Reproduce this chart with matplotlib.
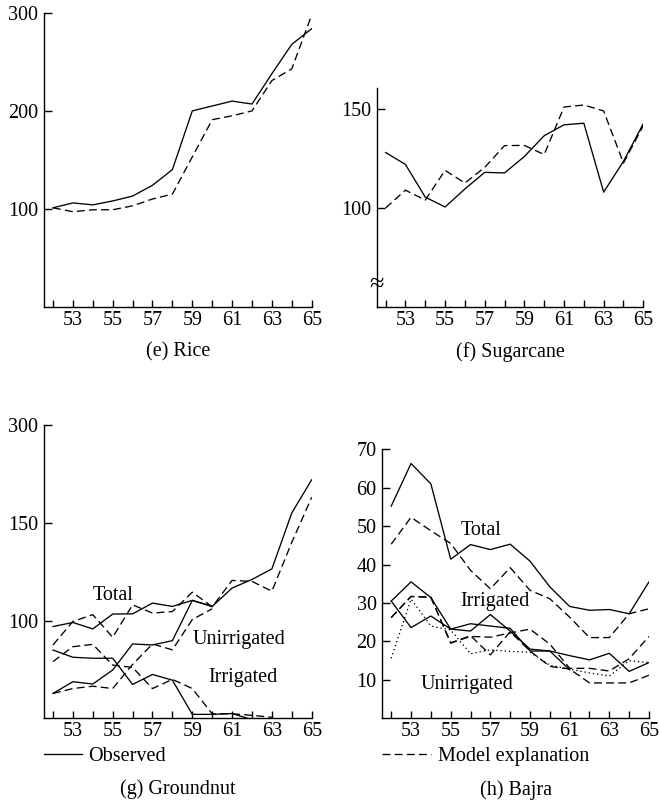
import numpy as np
import matplotlib
matplotlib.use("Agg")
from matplotlib import pyplot as plt

plt.rcParams['font.family'] = ['Liberation Serif', 'DejaVu Serif']
plt.rcParams['font.size'] = 14.5

years = np.arange(52, 66)
odd_labels = [str(y) if y % 2 else '' for y in years]

# (e) Rice
rice_obs = [101, 106, 104, 108, 113, 124, 140, 200, 205, 210, 207, 238, 268, 284]
rice_model = [101, 97, 99, 99, 103, 110, 115, 153, 191, 195, 200, 231, 243, 298]

# (f) Sugarcane
sugar_obs = [128, 122, 105.5, 100.5, 109.6, 118, 117.7, 126, 136.5, 142, 142.8, 108, 123.6, 142.6]
sugar_model = [100, 109, 104, 119, 112.6, 120.5, 131.5, 131.6, 127, 151, 152, 149, 122.7, 141.6]

# (g) Groundnut  (axis labelled 100, 150, 300 at evenly spaced ticks)
gn_total_obs = [96.9, 99, 95.7, 103.3, 103.4, 108.9, 107.2, 110.3, 107.2, 116.6, 121, 126.4, 155, 172]
gn_total_model = [87.5, 99.5, 103, 91.4, 108, 103.8, 104.6, 114.5, 107, 120.5, 120, 115, 140, 163]
gn_unirr_obs = [62.7, 68.7, 67.5, 74.7, 88, 87.5, 89.7, 110.3, 107.2] + [np.nan] * 5
gn_unirr_model = [62.7, 65.2, 66.4, 65.2, 77.5, 88, 85, 100.5, 106] + [np.nan] * 5
gn_irr_obs = [84.9, 81.2, 80.7, 80.7, 67.3, 72.4, 69.5, 52, 52, 52.4, 49.3] + [np.nan] * 3
gn_irr_model = [79, 86.6, 87.8, 77.2, 76, 65.2, 69.9, 65.2, 52.3, 52.3, 51.5, 50.5] + [np.nan] * 2
gn_yticks = [100, 150, 200]
gn_yticklabels = ['100', '150', '300']

# (h) Bajra
bj_total_obs = [55.2, 66.3, 61.0, 41.4, 45.2, 43.9, 45.3, 40.9, 34.2, 29.1, 28.1, 28.3, 27.2, 35.5]
bj_total_model = [45.3, 52.3, 48.8, 45.5, 38.5, 33.7, 39.2, 33.3, 31.1, 26.3, 21.0, 21.0, 27.2, 28.5]
bj_irr_obs = [30.5, 23.6, 26.6, 23.2, 24.6, 24.0, 23.4, 17.5, 17.5, 16.3, 15.2, 16.9, 12.2, 14.5]
bj_unirr_obs = [30.5, 35.5, 31.4, 23.2, 22.7, 27.0, 22.7, 18.0, 17.5, 12.6] + [np.nan] * 4
bj_irr_model = [26.2, 31.7, 31.5, 19.6, 21.3, 21.1, 22.2, 23.2, 19.3, 13.0, 13.0, 12.3, 15.5, 21.3]
bj_unirr_model = [26.2, 31.7, 31.5, 19.6, 21.5, 16.5, 22.5, 17.5, 13.5, 12.8, 9.2, 9.2, 9.2, 11.2]
bj_dotted = [15.6, 31.0, 24.0, 23.0, 16.8, 17.8, 17.4, 17.2, 13.8, 12.8, 11.8, 11.0, 15.0, 14.5]

SOLID = dict(color='black', lw=0.95, linestyle='-')
DASHED = dict(color='black', lw=0.95, linestyle=(0, (6, 3.2)))
DOTTED = dict(color='black', lw=0.95, linestyle=(0, (1, 2.2)))


def style_axes(ax, ylim, yticks, yticklabels=None):
    ax.set_xlim(51.55, 65)
    ax.set_ylim(*ylim)
    for side in ('top', 'right'):
        ax.spines[side].set_visible(False)
    for side in ('left', 'bottom'):
        ax.spines[side].set_linewidth(1.0)
    ax.set_xticks(years)
    ax.set_xticklabels(odd_labels)
    ax.set_yticks(yticks)
    if yticklabels is not None:
        ax.set_yticklabels(yticklabels)
    ax.tick_params(axis='x', direction='in', length=5, width=1.0, pad=3)
    ax.tick_params(axis='y', direction='in', length=6, width=1.0, pad=4)


def caption(ax, text, offset_px):
    ax.annotate(text, xy=(0.5, 0), xycoords='axes fraction',
                xytext=(0, -offset_px * 0.72), textcoords='offset points',
                ha='center', va='center')


fig = plt.figure(figsize=(6.59, 8.02), dpi=100)

# (e) Rice
ax_e = fig.add_axes([0.0668, 0.6176, 0.4062, 0.3662])
ax_e.plot(years, rice_obs, **SOLID)
ax_e.plot(years, rice_model, **DASHED)
style_axes(ax_e, (0, 300), [100, 200, 300])
caption(ax_e, '(e) Rice', 45)

# (f) Sugarcane
ax_f = fig.add_axes([0.5716, 0.6172, 0.4046, 0.2731])
ax_f.plot(years, sugar_obs, **SOLID)
ax_f.plot(years, sugar_model, **DASHED)
style_axes(ax_f, (50, 160.6), [100, 150])
# axis break mark on the y spine
ax_f.text(0, 61, '\u2248', transform=ax_f.get_yaxis_transform(), ha='center', va='center',
          fontsize=19, clip_on=False)
caption(ax_f, '(f) Sugarcane', 45)

# (g) Groundnut
ax_g = fig.add_axes([0.0668, 0.1044, 0.4062, 0.3657])
obs_line, = ax_g.plot(years, gn_total_obs, label='Observed', **SOLID)
ax_g.plot(years, gn_total_model, **DASHED)
ax_g.plot(years, gn_unirr_obs, **SOLID)
ax_g.plot(years, gn_unirr_model, **DASHED)
ax_g.plot(years, gn_irr_obs, **SOLID)
ax_g.plot(years, gn_irr_model, **DASHED)
style_axes(ax_g, (50, 200), gn_yticks, gn_yticklabels)
ax_g.text(55.0, 112.7, 'Total', ha='center', va='center')
ax_g.text(59.0, 90.1, 'Unirrigated', ha='left', va='center')
ax_g.text(59.8, 70.6, 'Irrigated', ha='left', va='center')
ax_g.legend(handles=[obs_line], loc='center left', bbox_to_anchor=(0, -0.131),
            frameon=False, handlelength=1.9, handletextpad=0.3,
            borderpad=0, borderaxespad=0)
caption(ax_g, '(g) Groundnut', 71)

# (h) Bajra
ax_h = fig.add_axes([0.5801, 0.1044, 0.4047, 0.3354])
ax_h.plot(years, bj_total_obs, **SOLID)
model_line, = ax_h.plot(years, bj_total_model, label='Model explanation', **DASHED)
ax_h.plot(years, bj_irr_obs, **SOLID)
ax_h.plot(years, bj_unirr_obs, **SOLID)
ax_h.plot(years, bj_irr_model, **DASHED)
ax_h.plot(years, bj_unirr_model, **DASHED)
ax_h.plot(years, bj_dotted, **DOTTED)
style_axes(ax_h, (0, 70), [10, 20, 30, 40, 50, 60, 70])
ax_h.text(56.53, 48.8, 'Total', ha='center', va='center')
ax_h.text(57.24, 30.3, 'Irrigated', ha='center', va='center')
ax_h.text(55.83, 8.9, 'Unirrigated', ha='center', va='center')
ax_h.legend(handles=[model_line], loc='center left', bbox_to_anchor=(0, -0.143),
            frameon=False, handlelength=2.4, handletextpad=0.35,
            borderpad=0, borderaxespad=0)
caption(ax_h, '(h) Bajra', 72)

fig.savefig('out.png', dpi=100)
